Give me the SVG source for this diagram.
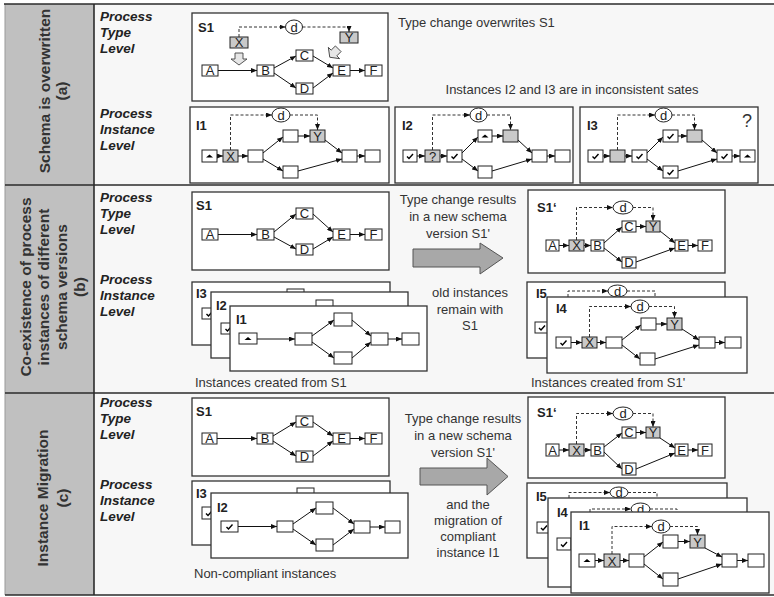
<svg xmlns="http://www.w3.org/2000/svg" width="774" height="597" viewBox="0 0 774 597">
<style>
.pb{fill:#fff;stroke:#333;stroke-width:1.3}
.n{fill:#fff;stroke:#222;stroke-width:1}
.g{fill:#c9c9c9;stroke:#222;stroke-width:1}
.el{fill:#fff;stroke:#222;stroke-width:1}
.c{fill:none;stroke:#111;stroke-width:1;marker-end:url(#ah)}
.d{fill:none;stroke:#333;stroke-width:1;stroke-dasharray:3 2}
.da{marker-end:url(#ah)}
text{font-family:"Liberation Sans",Arial,sans-serif}
.l{font-size:13px;fill:#222;text-anchor:middle}
.t{font-size:13px;fill:#333}
.tc{font-size:13px;fill:#333;text-anchor:middle}
.pl{font-size:13.5px;font-weight:bold;font-style:italic;fill:#222}
.id{font-size:13px;font-weight:bold;fill:#222}
.sd{font-size:15.5px;font-weight:bold;fill:#333;text-anchor:middle}
.big{fill:#a8a8a8;stroke:#555;stroke-width:1}
.ba{fill:#e6e6e6;stroke:#444;stroke-width:0.9}
.fr{stroke:#2b2b2b;stroke-width:1.6;fill:none}
</style>
<defs>
<marker id="ah" viewBox="0 0 6 5" refX="6" refY="2.5" markerWidth="6" markerHeight="5" markerUnits="userSpaceOnUse" orient="auto"><path d="M0,0 L6,2.5 L0,5 z" fill="#111"/></marker>
<path id="chk" d="M-3,0.5 L-1,2.5 L3,-2" fill="none" stroke="#000" stroke-width="1.4"/>
<path id="tri" d="M-3.5,1.5 L0,-1.5 L3.5,1.5 z" fill="#000"/>
<path id="bar" d="M-4,-6 H4 V0 H8 L0,6 L-8,0 H-4 Z"/>
</defs>

<rect x="0" y="0" width="774" height="597" fill="#fff"/>
<rect x="5" y="4" width="769" height="591" fill="#f7f7f7"/>
<rect x="5" y="4" width="89" height="591" fill="#c0c0c0"/>
<g id="frame">
<line x1="5" y1="4" x2="5" y2="595" stroke="#999" stroke-width="1"/>
<line class="fr" x1="4" y1="4" x2="774" y2="4"/>
<line class="fr" x1="5" y1="185" x2="774" y2="185"/>
<line class="fr" x1="5" y1="393" x2="774" y2="393"/>
<line class="fr" x1="5" y1="595" x2="774" y2="595"/>
<line class="fr" x1="94" y1="4" x2="94" y2="595"/>
</g>

<g id="side-labels">
<text class="sd" transform="translate(50,91) rotate(-90)">Schema is overwritten</text>
<text class="sd" transform="translate(67,91) rotate(-90)">(a)</text>
<text class="sd" transform="translate(31,287) rotate(-90)">Co-existence of process</text>
<text class="sd" transform="translate(49,287) rotate(-90)">instances of different</text>
<text class="sd" transform="translate(67,287) rotate(-90)">schema versions</text>
<text class="sd" transform="translate(85,287) rotate(-90)">(b)</text>
<text class="sd" transform="translate(48,498) rotate(-90)">Instance Migration</text>
<text class="sd" transform="translate(68,498) rotate(-90)">(c)</text>
</g>

<g id="level-labels">
<text class="pl" x="100" y="21">Process</text><text class="pl" x="100" y="37">Type</text><text class="pl" x="100" y="53">Level</text>
<text class="pl" x="100" y="118">Process</text><text class="pl" x="100" y="134">Instance</text><text class="pl" x="100" y="150">Level</text>
<text class="pl" x="100" y="202">Process</text><text class="pl" x="100" y="218">Type</text><text class="pl" x="100" y="234">Level</text>
<text class="pl" x="100" y="284">Process</text><text class="pl" x="100" y="300">Instance</text><text class="pl" x="100" y="316">Level</text>
<text class="pl" x="100" y="407">Process</text><text class="pl" x="100" y="423">Type</text><text class="pl" x="100" y="439">Level</text>
<text class="pl" x="100" y="489">Process</text><text class="pl" x="100" y="505">Instance</text><text class="pl" x="100" y="521">Level</text>
</g>

<g id="notes">
<text class="t" x="398" y="27">Type change overwrites S1</text>
<text class="tc" x="572" y="94">Instances I2 and I3 are in inconsistent sates</text>
<text class="tc" x="458" y="204">Type change results</text>
<text class="tc" x="458" y="221">in a new schema</text>
<text class="tc" x="458" y="238">version S1'</text>
<text class="tc" x="470" y="297">old instances</text>
<text class="tc" x="470" y="314">remain with</text>
<text class="tc" x="470" y="330">S1</text>
<text class="t" x="195" y="387">Instances created from S1</text>
<text class="t" x="531" y="387">Instances created from S1'</text>
<text class="tc" x="463" y="423">Type change results</text>
<text class="tc" x="463" y="440">in a new schema</text>
<text class="tc" x="463" y="457">version S1'</text>
<text class="tc" x="468" y="509">and the</text>
<text class="tc" x="468" y="525">migration of</text>
<text class="tc" x="468" y="541">compliant</text>
<text class="tc" x="468" y="557">instance I1</text>
<text class="t" x="194" y="578">Non-compliant instances</text>
</g>

<g id="big-arrows">
<polygon class="big" points="413,249 480,249 480,243 503,258 480,274 480,267 413,267"/>
<polygon class="big" points="420,468 487,468 487,458 508,476.5 487,495 487,485 420,485"/>
</g>

<!-- ROW A : S1 -->
<g id="a-S1">
<rect class="pb" x="192" y="13" width="196" height="88"/>
<text class="id" x="198" y="32">S1</text>
<g id="a-S1-edges">
<path class="c" d="M218,70.5 H257"/>
<path class="c" d="M274,68 L296,56"/>
<path class="c" d="M274,73 L296,88"/>
<path class="c" d="M313,56 L333,68"/>
<path class="c" d="M313,88 L333,73"/>
<path class="c" d="M350,70.5 H365"/>
<path class="d da" d="M239,37 V27 H285.5"/>
<path class="d da" d="M302.5,27 H349 V32"/>
</g>
<use href="#bar" class="ba" transform="translate(239,59)"/>
<use href="#bar" class="ba" transform="translate(334,53) rotate(45)"/>
<g id="a-S1-A"><rect class="n" x="202" y="65" width="16" height="11"/><text class="l" x="210" y="75">A</text></g>
<g id="a-S1-B"><rect class="n" x="257" y="65" width="17" height="11"/><text class="l" x="265.5" y="75">B</text></g>
<g id="a-S1-C"><rect class="n" x="296" y="50" width="17" height="11"/><text class="l" x="304.5" y="60">C</text></g>
<g id="a-S1-D"><rect class="n" x="296" y="83" width="17" height="11"/><text class="l" x="304.5" y="93">D</text></g>
<g id="a-S1-E"><rect class="n" x="333" y="65" width="17" height="11"/><text class="l" x="341.5" y="75">E</text></g>
<g id="a-S1-F"><rect class="n" x="365" y="65" width="17" height="11"/><text class="l" x="373.5" y="75">F</text></g>
<g id="a-S1-X"><rect class="g" x="230" y="37" width="18" height="11"/><text class="l" x="239" y="47">X</text></g>
<g id="a-S1-Y"><rect class="g" x="340" y="32" width="18" height="11"/><text class="l" x="349" y="42">Y</text></g>
<g id="a-S1-d"><ellipse class="el" cx="294" cy="27" rx="8.5" ry="7"/><text class="l" x="294" y="31.5">d</text></g>
</g>

<!-- ROW A : I1 -->
<g id="a-I1">
<rect class="pb" x="190" y="107" width="199" height="76"/>
<text class="id" x="196" y="130">I1</text>
<g id="a-I1-edges">
<path class="c" d="M217,156 H223"/>
<path class="c" d="M238,156 H248"/>
<path class="c" d="M263,153 L283,137"/>
<path class="c" d="M263,159 L283,171"/>
<path class="c" d="M298,136 H310"/>
<path class="c" d="M325,140 L342,153"/>
<path class="c" d="M298,171 L342,159"/>
<path class="c" d="M357,156 H365"/>
<path class="d da" d="M230.5,150 V115 H272"/>
<path class="d da" d="M290,115 H317.5 V130"/>
</g>
<g id="a-I1-s"><rect class="n" x="202" y="150" width="15" height="12"/><use href="#tri" x="209.5" y="156"/></g>
<g id="a-I1-X"><rect class="g" x="223" y="150" width="15" height="12"/><text class="l" x="230.5" y="160.5">X</text></g>
<g id="a-I1-n3"><rect class="n" x="248" y="150" width="15" height="12"/></g>
<g id="a-I1-up"><rect class="n" x="283" y="130" width="15" height="12"/></g>
<g id="a-I1-Y"><rect class="g" x="310" y="130" width="15" height="12"/><text class="l" x="317.5" y="140.5">Y</text></g>
<g id="a-I1-lo"><rect class="n" x="283" y="166" width="15" height="12"/></g>
<g id="a-I1-j"><rect class="n" x="342" y="150" width="15" height="12"/></g>
<g id="a-I1-e"><rect class="n" x="365" y="150" width="15" height="12"/></g>
<g id="a-I1-d"><ellipse class="el" cx="281" cy="115" rx="9" ry="7"/><text class="l" x="281" y="119.5">d</text></g>
</g>

<!-- ROW A : I2 -->
<g id="a-I2">
<rect class="pb" x="395" y="107" width="178" height="76"/>
<text class="id" x="402" y="130">I2</text>
<g id="a-I2-edges">
<path class="c" d="M417,156 H425"/>
<path class="c" d="M440,156 H447"/>
<path class="c" d="M462,153 L478,137"/>
<path class="c" d="M462,159 L478,171"/>
<path class="c" d="M492,136 H503"/>
<path class="c" d="M518,140 L532,153"/>
<path class="c" d="M492,171 L532,159"/>
<path class="c" d="M547,156 H555"/>
<path class="d da" d="M432.5,150 V115 H470"/>
<path class="d da" d="M487,115 H510.5 V130"/>
</g>
<g id="a-I2-c1"><rect class="n" x="403" y="150" width="14" height="12"/><use href="#chk" x="410" y="156"/></g>
<g id="a-I2-q"><rect class="g" x="425" y="150" width="15" height="12"/><text class="l" x="432.5" y="160.5" fill="#555">?</text></g>
<g id="a-I2-c2"><rect class="n" x="447" y="150" width="15" height="12"/><use href="#chk" x="454.5" y="156"/></g>
<g id="a-I2-up"><rect class="n" x="478" y="130" width="14" height="12"/><use href="#tri" x="485" y="136"/></g>
<g id="a-I2-ug"><rect class="g" x="503" y="130" width="15" height="12"/></g>
<g id="a-I2-lo"><rect class="n" x="478" y="166" width="14" height="12"/></g>
<g id="a-I2-j"><rect class="n" x="532" y="150" width="15" height="12"/></g>
<g id="a-I2-e"><rect class="n" x="555" y="150" width="15" height="12"/></g>
<g id="a-I2-d"><ellipse class="el" cx="478.5" cy="115" rx="8.5" ry="7"/><text class="l" x="478.5" y="119.5">d</text></g>
</g>

<!-- ROW A : I3 -->
<g id="a-I3">
<rect class="pb" x="580" y="107" width="178" height="76"/>
<text class="id" x="587" y="130">I3</text>
<text x="747" y="127" font-size="18" fill="#333" text-anchor="middle">?</text>
<g id="a-I3-edges">
<path class="c" d="M603,156 H610"/>
<path class="c" d="M625,156 H632"/>
<path class="c" d="M647,153 L663,137"/>
<path class="c" d="M647,159 L663,171"/>
<path class="c" d="M678,136 H687"/>
<path class="c" d="M702,140 L717,153"/>
<path class="c" d="M678,171 L717,159"/>
<path class="c" d="M732,156 H740"/>
<path class="d da" d="M617.5,150 V115 H655"/>
<path class="d da" d="M672,115 H694.5 V130"/>
</g>
<g id="a-I3-c1"><rect class="n" x="588" y="150" width="15" height="12"/><use href="#chk" x="595.5" y="156"/></g>
<g id="a-I3-g1"><rect class="g" x="610" y="150" width="15" height="12"/></g>
<g id="a-I3-c2"><rect class="n" x="632" y="150" width="15" height="12"/><use href="#chk" x="639.5" y="156"/></g>
<g id="a-I3-uc"><rect class="n" x="663" y="130" width="15" height="12"/><use href="#chk" x="670.5" y="136"/></g>
<g id="a-I3-ug"><rect class="g" x="687" y="130" width="15" height="12"/></g>
<g id="a-I3-lc"><rect class="n" x="663" y="166" width="15" height="12"/><use href="#chk" x="670.5" y="172"/></g>
<g id="a-I3-jc"><rect class="n" x="717" y="150" width="15" height="12"/><use href="#chk" x="724.5" y="156"/></g>
<g id="a-I3-et"><rect class="n" x="740" y="150" width="15" height="12"/><use href="#tri" x="747.5" y="156"/></g>
<g id="a-I3-d"><ellipse class="el" cx="663.5" cy="115" rx="8.5" ry="7"/><text class="l" x="663.5" y="119.5">d</text></g>
</g>

<!-- ROW B : S1 -->
<g id="b-S1">
<rect class="pb" x="192" y="192" width="197" height="78"/>
<text class="id" x="196" y="210">S1</text>
<g id="b-S1-edges">
<path class="c" d="M218,234.5 H257"/>
<path class="c" d="M274,232 L296,214"/>
<path class="c" d="M274,237 L296,249"/>
<path class="c" d="M313,214 L333,232"/>
<path class="c" d="M313,249 L333,237"/>
<path class="c" d="M350,234.5 H365"/>
</g>
<g id="b-S1-A"><rect class="n" x="202" y="229" width="16" height="11"/><text class="l" x="210" y="239">A</text></g>
<g id="b-S1-B"><rect class="n" x="257" y="229" width="17" height="11"/><text class="l" x="265.5" y="239">B</text></g>
<g id="b-S1-C"><rect class="n" x="296" y="208" width="17" height="11"/><text class="l" x="304.5" y="218">C</text></g>
<g id="b-S1-D"><rect class="n" x="296" y="244" width="17" height="11"/><text class="l" x="304.5" y="254">D</text></g>
<g id="b-S1-E"><rect class="n" x="333" y="229" width="17" height="11"/><text class="l" x="341.5" y="239">E</text></g>
<g id="b-S1-F"><rect class="n" x="365" y="229" width="17" height="11"/><text class="l" x="373.5" y="239">F</text></g>
</g>

<!-- ROW B : stacked I3, I2, I1 -->
<g id="b-I3">
<rect class="pb" x="192" y="282" width="198" height="63"/>
<text class="id" x="196" y="298">I3</text>
<g id="b-I3-c"><rect class="n" x="202" y="308" width="15" height="11"/><use href="#chk" x="209.5" y="313.5"/></g>
<g id="b-I3-up"><rect class="n" x="287" y="289" width="17" height="12"/></g>
</g>
<g id="b-I2">
<rect class="pb" x="211" y="292" width="197" height="66"/>
<text class="id" x="216" y="310">I2</text>
<g id="b-I2-c"><rect class="n" x="221" y="323" width="15" height="11"/><use href="#chk" x="228.5" y="328.5"/></g>
<g id="b-I2-up"><rect class="n" x="316" y="300" width="17" height="12"/></g>
</g>
<g id="b-I1">
<rect class="pb" x="230" y="306" width="197" height="65"/>
<text class="id" x="236" y="324">I1</text>
<g id="b-I1-edges">
<path class="c" d="M257,339 H295"/>
<path class="c" d="M312,336 L334,320"/>
<path class="c" d="M312,342 L334,358"/>
<path class="c" d="M352,320 L371,336"/>
<path class="c" d="M352,358 L371,342"/>
<path class="c" d="M388,339 H402"/>
</g>
<g id="b-I1-s"><rect class="n" x="239" y="333" width="18" height="11"/><use href="#tri" x="248" y="338.5"/></g>
<g id="b-I1-n2"><rect class="n" x="295" y="333" width="17" height="12"/></g>
<g id="b-I1-up"><rect class="n" x="334" y="313" width="18" height="13"/></g>
<g id="b-I1-lo"><rect class="n" x="334" y="352" width="18" height="12"/></g>
<g id="b-I1-j"><rect class="n" x="371" y="333" width="17" height="12"/></g>
<g id="b-I1-e"><rect class="n" x="402" y="333" width="17" height="12"/></g>
</g>

<!-- ROW B : S1' -->
<g id="b-S1p">
<rect class="pb" x="528" y="190" width="197" height="83"/>
<text class="id" x="537" y="212">S1‘</text>
<g id="b-S1p-edges">
<path class="c" d="M559,245.5 H569"/>
<path class="c" d="M584,245.5 H591"/>
<path class="c" d="M604,243 L622,227"/>
<path class="c" d="M604,248 L622,262"/>
<path class="c" d="M636,226.5 H646"/>
<path class="c" d="M660,231 L675,243"/>
<path class="c" d="M636,262 L675,248"/>
<path class="c" d="M688,245.5 H698"/>
<path class="d da" d="M576.5,240 V207.5 H613"/>
<path class="d da" d="M633,207.5 H653 V221"/>
</g>
<g id="b-S1p-A"><rect class="n" x="546" y="240" width="13" height="11"/><text class="l" x="552.5" y="250">A</text></g>
<g id="b-S1p-X"><rect class="g" x="569" y="240" width="15" height="11"/><text class="l" x="576.5" y="250">X</text></g>
<g id="b-S1p-B"><rect class="n" x="591" y="240" width="13" height="11"/><text class="l" x="597.5" y="250">B</text></g>
<g id="b-S1p-C"><rect class="n" x="622" y="221" width="14" height="11"/><text class="l" x="629" y="231">C</text></g>
<g id="b-S1p-Y"><rect class="g" x="646" y="221" width="14" height="11"/><text class="l" x="653" y="231">Y</text></g>
<g id="b-S1p-D"><rect class="n" x="622" y="257" width="14" height="11"/><text class="l" x="629" y="267">D</text></g>
<g id="b-S1p-E"><rect class="n" x="675" y="240" width="13" height="11"/><text class="l" x="681.5" y="250">E</text></g>
<g id="b-S1p-F"><rect class="n" x="698" y="240" width="14" height="11"/><text class="l" x="705" y="250">F</text></g>
<g id="b-S1p-d"><ellipse class="el" cx="623" cy="207.5" rx="10" ry="6.5"/><text class="l" x="623" y="212">d</text></g>
</g>

<!-- ROW B : I5, I4 -->
<g id="b-I5">
<rect class="pb" x="527" y="282" width="198" height="76"/>
<text class="id" x="536" y="298">I5</text>
<g id="b-I5-edges">
<path class="d da" d="M568,297 V291 H608"/>
<path class="d" d="M627,291 H655 V297"/>
</g>
<g id="b-I5-d"><ellipse class="el" cx="617.5" cy="291" rx="9.5" ry="6"/><text class="l" x="617.5" y="295.5">d</text></g>
<g id="b-I5-c"><rect class="n" x="535" y="322" width="14" height="11"/><use href="#chk" x="542" y="327.5"/></g>
</g>
<g id="b-I4">
<rect class="pb" x="547" y="297" width="200" height="76"/>
<text class="id" x="556" y="313">I4</text>
<g id="b-I4-edges">
<path class="c" d="M571,342.5 H582"/>
<path class="c" d="M597,342.5 H606"/>
<path class="c" d="M622,340 L641,325"/>
<path class="c" d="M622,345 L640,359"/>
<path class="c" d="M656,324 H667"/>
<path class="c" d="M682,329 L699,340"/>
<path class="c" d="M655,359 L699,345"/>
<path class="c" d="M715,342.5 H725"/>
<path class="d da" d="M589.5,337 V306.5 H631"/>
<path class="d da" d="M649,306.5 H674.5 V318"/>
</g>
<g id="b-I4-c"><rect class="n" x="556" y="337" width="15" height="11"/><use href="#chk" x="563.5" y="342.5"/></g>
<g id="b-I4-X"><rect class="g" x="582" y="337" width="15" height="11"/><text class="l" x="589.5" y="347">X</text></g>
<g id="b-I4-n3"><rect class="n" x="606" y="337" width="16" height="11"/></g>
<g id="b-I4-up"><rect class="n" x="641" y="318" width="15" height="12"/></g>
<g id="b-I4-Y"><rect class="g" x="667" y="318" width="15" height="12"/><text class="l" x="674.5" y="328.5">Y</text></g>
<g id="b-I4-lo"><rect class="n" x="640" y="353" width="15" height="12"/></g>
<g id="b-I4-j"><rect class="n" x="699" y="337" width="16" height="11"/></g>
<g id="b-I4-e"><rect class="n" x="725" y="337" width="16" height="11"/></g>
<g id="b-I4-d"><ellipse class="el" cx="640" cy="306.5" rx="9" ry="6.5"/><text class="l" x="640" y="311">d</text></g>
</g>

<!-- ROW C : S1 -->
<g id="c-S1">
<rect class="pb" x="192" y="398" width="197" height="78"/>
<text class="id" x="196" y="416">S1</text>
<g id="c-S1-edges">
<path class="c" d="M217,438.5 H257"/>
<path class="c" d="M273,436 L296,422"/>
<path class="c" d="M273,441 L296,456"/>
<path class="c" d="M313,422 L333,436"/>
<path class="c" d="M313,456 L333,441"/>
<path class="c" d="M350,438.5 H365"/>
</g>
<g id="c-S1-A"><rect class="n" x="202" y="433" width="15" height="11"/><text class="l" x="209.5" y="443">A</text></g>
<g id="c-S1-B"><rect class="n" x="257" y="433" width="16" height="11"/><text class="l" x="265" y="443">B</text></g>
<g id="c-S1-C"><rect class="n" x="296" y="416" width="17" height="11"/><text class="l" x="304.5" y="426">C</text></g>
<g id="c-S1-D"><rect class="n" x="296" y="451" width="17" height="11"/><text class="l" x="304.5" y="461">D</text></g>
<g id="c-S1-E"><rect class="n" x="333" y="433" width="17" height="11"/><text class="l" x="341.5" y="443">E</text></g>
<g id="c-S1-F"><rect class="n" x="365" y="433" width="17" height="11"/><text class="l" x="373.5" y="443">F</text></g>
</g>

<!-- ROW C : I3, I2 -->
<g id="c-I3">
<rect class="pb" x="192" y="481" width="198" height="64"/>
<text class="id" x="196" y="498">I3</text>
<g id="c-I3-c"><rect class="n" x="202" y="507" width="14" height="12"/><use href="#chk" x="209" y="513"/></g>
<g id="c-I3-up"><rect class="n" x="297" y="488" width="17" height="12"/></g>
</g>
<g id="c-I2">
<rect class="pb" x="211" y="493" width="197" height="65"/>
<text class="id" x="217" y="512">I2</text>
<g id="c-I2-edges">
<path class="c" d="M238,526.5 H277"/>
<path class="c" d="M293,524 L316,508"/>
<path class="c" d="M293,529 L316,545"/>
<path class="c" d="M333,508 L354,524"/>
<path class="c" d="M333,545 L354,529"/>
<path class="c" d="M370,527 H385"/>
</g>
<g id="c-I2-c"><rect class="n" x="221" y="521" width="17" height="11"/><use href="#chk" x="229.5" y="526.5"/></g>
<g id="c-I2-n2"><rect class="n" x="277" y="521" width="16" height="11"/></g>
<g id="c-I2-up"><rect class="n" x="316" y="502" width="17" height="12"/></g>
<g id="c-I2-lo"><rect class="n" x="316" y="539" width="17" height="12"/></g>
<g id="c-I2-j"><rect class="n" x="354" y="521" width="16" height="12"/></g>
<g id="c-I2-e"><rect class="n" x="385" y="521" width="15" height="12"/></g>
</g>

<!-- ROW C : S1' -->
<g id="c-S1p">
<rect class="pb" x="528" y="397" width="197" height="81"/>
<text class="id" x="537" y="417">S1‘</text>
<g id="c-S1p-edges">
<path class="c" d="M559,450 H569"/>
<path class="c" d="M584,450 H591"/>
<path class="c" d="M604,447 L622,433"/>
<path class="c" d="M604,452 L622,469"/>
<path class="c" d="M636,432.5 H646"/>
<path class="c" d="M660,438 L675,448"/>
<path class="c" d="M636,469 L675,453"/>
<path class="c" d="M688,450 H698"/>
<path class="d da" d="M576.5,444 V413.5 H613"/>
<path class="d da" d="M633,413.5 H653 V427"/>
</g>
<g id="c-S1p-A"><rect class="n" x="546" y="444" width="13" height="12"/><text class="l" x="552.5" y="454.5">A</text></g>
<g id="c-S1p-X"><rect class="g" x="569" y="444" width="15" height="12"/><text class="l" x="576.5" y="454.5">X</text></g>
<g id="c-S1p-B"><rect class="n" x="591" y="444" width="13" height="12"/><text class="l" x="597.5" y="454.5">B</text></g>
<g id="c-S1p-C"><rect class="n" x="622" y="427" width="14" height="11"/><text class="l" x="629" y="437">C</text></g>
<g id="c-S1p-Y"><rect class="g" x="646" y="427" width="14" height="11"/><text class="l" x="653" y="437">Y</text></g>
<g id="c-S1p-D"><rect class="n" x="622" y="463" width="14" height="12"/><text class="l" x="629" y="473.5">D</text></g>
<g id="c-S1p-E"><rect class="n" x="675" y="444" width="13" height="12"/><text class="l" x="681.5" y="454.5">E</text></g>
<g id="c-S1p-F"><rect class="n" x="698" y="444" width="14" height="12"/><text class="l" x="705" y="454.5">F</text></g>
<g id="c-S1p-d"><ellipse class="el" cx="623" cy="413.5" rx="10" ry="6.5"/><text class="l" x="623" y="418">d</text></g>
</g>

<!-- ROW C : I5, I4, I1 -->
<g id="c-I5">
<rect class="pb" x="527" y="483" width="200" height="75"/>
<text class="id" x="536" y="501">I5</text>
<g id="c-I5-edges">
<path class="d da" d="M569,498 V492.5 H610"/>
<path class="d" d="M628,492.5 H657 V498"/>
</g>
<g id="c-I5-d"><ellipse class="el" cx="619" cy="492.5" rx="9" ry="5.5"/><text class="l" x="619" y="497">d</text></g>
<g id="c-I5-c"><rect class="n" x="537" y="522" width="14" height="11"/><use href="#chk" x="544" y="527.5"/></g>
</g>
<g id="c-I4">
<rect class="pb" x="548" y="498" width="199" height="89"/>
<text class="id" x="557" y="517">I4</text>
<g id="c-I4-edges">
<path class="d da" d="M590,512 V509 H631"/>
<path class="d" d="M650,509 H677 V512"/>
</g>
<g id="c-I4-d"><ellipse class="el" cx="640.5" cy="509" rx="9.5" ry="6"/><text class="l" x="640.5" y="513.5">d</text></g>
<g id="c-I4-c"><rect class="n" x="557" y="538" width="14" height="12"/><use href="#chk" x="564" y="544"/></g>
</g>
<g id="c-I1">
<rect class="pb" x="571" y="512" width="198" height="81"/>
<text class="id" x="579" y="530">I1</text>
<g id="c-I1-edges">
<path class="c" d="M595,560.5 H604"/>
<path class="c" d="M620,560.5 H629"/>
<path class="c" d="M644,557 L663,542"/>
<path class="c" d="M644,564 L663,579"/>
<path class="c" d="M678,541.5 H690"/>
<path class="c" d="M705,548 L722,557"/>
<path class="c" d="M678,579 L722,564"/>
<path class="c" d="M737,560.5 H748"/>
<path class="d da" d="M612,554 V526.5 H652"/>
<path class="d da" d="M670,526.5 H697.5 V535"/>
</g>
<g id="c-I1-s"><rect class="n" x="579" y="554" width="16" height="13"/><use href="#tri" x="587" y="560.5"/></g>
<g id="c-I1-X"><rect class="g" x="604" y="554" width="16" height="13"/><text class="l" x="612" y="565.5">X</text></g>
<g id="c-I1-n3"><rect class="n" x="629" y="554" width="15" height="13"/></g>
<g id="c-I1-up"><rect class="n" x="663" y="535" width="15" height="13"/></g>
<g id="c-I1-Y"><rect class="g" x="690" y="535" width="15" height="13"/><text class="l" x="697.5" y="546.5">Y</text></g>
<g id="c-I1-lo"><rect class="n" x="663" y="573" width="15" height="13"/></g>
<g id="c-I1-j"><rect class="n" x="722" y="554" width="15" height="13"/></g>
<g id="c-I1-e"><rect class="n" x="748" y="554" width="16" height="13"/></g>
<g id="c-I1-d"><ellipse class="el" cx="661" cy="526.5" rx="9" ry="6.5"/><text class="l" x="661" y="531">d</text></g>
</g>
</svg>
